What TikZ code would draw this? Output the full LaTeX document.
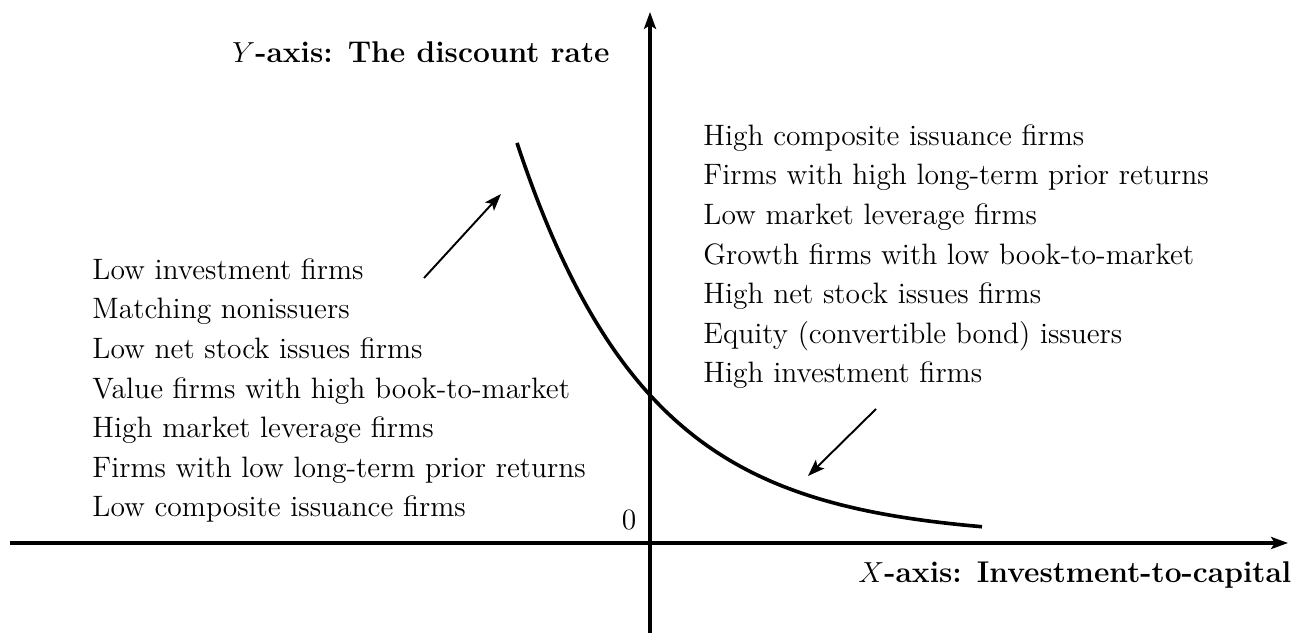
\documentclass[tikz,border=0pt]{standalone}
\usepackage{tikz}
\usetikzlibrary{arrows.meta}

\begin{document}
\begin{tikzpicture}[x=0.4136pt, y=-0.4136pt,
    axis/.style={line width=1.25pt, -{Stealth[length=7pt,width=5pt,inset=1.5pt]}},
    pointer/.style={line width=0.8pt, -{Stealth[length=7pt,width=5pt,inset=1.5pt]}},
    firms/.style={align=left, anchor=base west, inner sep=0pt, font=\fontsize{12.2}{16.4}\selectfont},
    axislabel/.style={anchor=base west, inner sep=0pt, font=\fontsize{12.4}{14}\selectfont}]
        \useasboundingbox (0,0) rectangle (1294,633);
        \coordinate(O)at(650,543);
        \coordinate(Xs)at(10,543);
        \coordinate(Xe)at(1288,543);
        \coordinate(Ys)at(650,633);
        \coordinate(Ye)at(650,12);
        \coordinate(A1)at(424,278);
        \coordinate(A2)at(501,194);
        \coordinate(B1)at(876,409);
        \coordinate(B2)at(808,476);
        % axes
        \path[draw, axis](Xs)to(Xe);
        \path[draw, axis](Ys)to(Ye);
        \node[axislabel](ylab)at(232,63){$Y$\textbf{-axis: The discount rate}};
        \node[axislabel](xlab)at(858,583){$X$\textbf{-axis: Investment-to-capital}};
        \node[font=\fontsize{12.2}{14}\selectfont](zero)at(629,520){0};
        % curve
        \draw[line width=1.5pt, domain=517:982, samples=120] plot (\x, {538-395*exp(-0.00764*(\x-517))});
        % arrows
        \path[draw, pointer](A1)to(A2);
        \path[draw, pointer](B1)to(B2);
        % firms (base = last line)
        \node[firms](low)at(92,517){Low investment firms\\Matching nonissuers\\Low net stock issues firms\\Value firms with high book-to-market\\High market leverage firms\\Firms with low long-term prior returns\\Low composite issuance firms};
        \node[firms](high)at(703,383){High composite issuance firms\\Firms with high long-term prior returns\\Low market leverage firms\\Growth firms with low book-to-market\\High net stock issues firms\\Equity (convertible bond) issuers\\High investment firms};
    \end{tikzpicture}
\end{document}
